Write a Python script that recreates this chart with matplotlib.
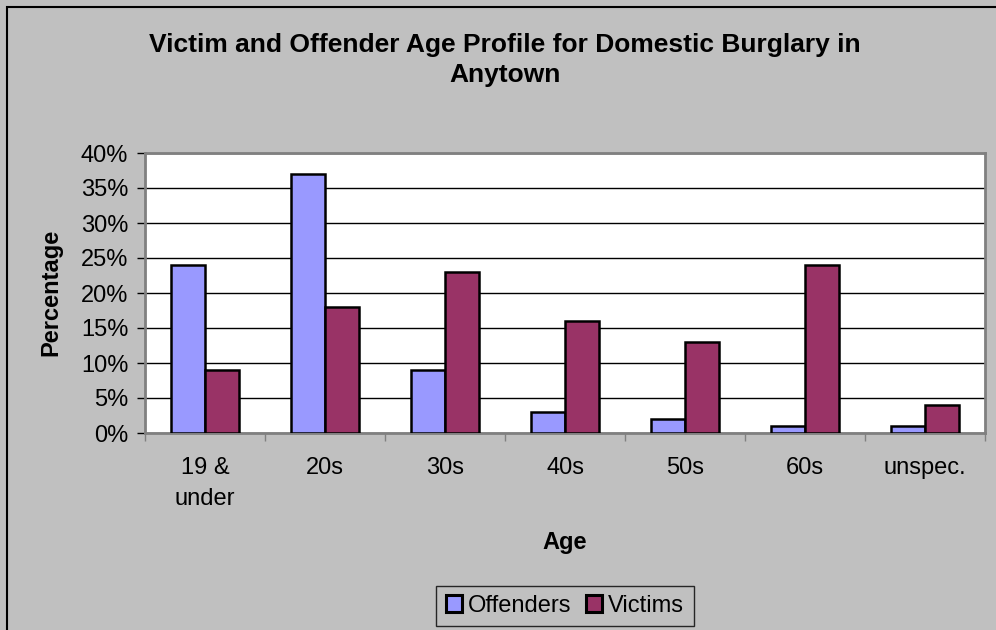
import numpy as np
import matplotlib.pyplot as plt
from matplotlib.patches import Rectangle

plt.rcParams['font.family'] = ['Liberation Sans', 'DejaVu Sans']

# Age groups and percentages
categories = ["19 &\nunder", "20s", "30s", "40s", "50s", "60s", "unspec."]
offenders = [24, 37, 9, 3, 2, 1, 1]
victims = [9, 18, 23, 16, 13, 24, 4]

W, H = 996, 630
fig = plt.figure(figsize=(W / 100, H / 100), dpi=100, facecolor="#c0c0c0")
ax = fig.add_axes([145 / W, 1 - 433 / H, 840 / W, 280 / H])
ax.set_facecolor("white")

# outer frame of the chart area
fig.patches.append(Rectangle((7 / W, -0.05), 1.1, 1 - 7 / H + 0.05,
                             transform=fig.transFigure, fill=False,
                             edgecolor="black", linewidth=1.5))

x = np.arange(len(categories))
w = 0.286
ax.bar(x - w / 2, offenders, w, color="#9999ff", edgecolor="black",
       linewidth=1.8, label="Offenders", zorder=3)
ax.bar(x + w / 2, victims, w, color="#993366", edgecolor="black",
       linewidth=1.8, label="Victims", zorder=3)

fs = 17
ax.set_xlim(-0.5, len(categories) - 0.5)
ax.set_ylim(0, 40)
ax.set_yticks(np.arange(0, 41, 5))
ax.set_yticklabels([f"{v}%" for v in range(0, 41, 5)], fontsize=fs)
ax.yaxis.grid(True, color="black", linewidth=1)
ax.set_axisbelow(True)

ax.set_xticks(x)
ax.set_xticklabels(categories, fontsize=fs, linespacing=1.55, va="top")
ax.set_xticks(np.arange(-0.5, len(categories), 1), minor=True)
ax.tick_params(axis="x", which="major", length=0, pad=17)
ax.tick_params(axis="x", which="minor", length=6, width=1, color="#808080")
ax.tick_params(axis="y", length=6, width=1, color="black", pad=6)

for s in ax.spines.values():
    s.set_color("#808080")
    s.set_linewidth(2)

ax.set_xlabel("Age", fontsize=fs, fontweight="bold")
ax.xaxis.set_label_coords(565 / W, 1 - 543 / H, transform=fig.transFigure)
ax.xaxis.label.set_va("center")
ax.set_ylabel("Percentage", fontsize=fs, fontweight="bold")
ax.yaxis.set_label_coords(51 / W, 1 - 292 / H, transform=fig.transFigure)
ax.yaxis.label.set_va("center")

fig.text(505 / W, 1 - 45 / H,
         "Victim and Offender Age Profile for Domestic Burglary in",
         ha="center", va="center", fontsize=19, fontweight="bold")
fig.text(505 / W, 1 - 75 / H, "Anytown",
         ha="center", va="center", fontsize=19, fontweight="bold")

leg = fig.legend(loc="center", bbox_to_anchor=(565 / W, 1 - 606 / H),
                 ncol=2, fontsize=fs, frameon=True, fancybox=False,
                 handlelength=0.7, handleheight=0.7, handletextpad=0.25,
                 columnspacing=0.6, borderpad=0.4, borderaxespad=0)
leg.get_frame().set_edgecolor("black")
leg.get_frame().set_facecolor("#c0c0c0")
leg.get_frame().set_linewidth(1)
for h in leg.legend_handles:
    h.set_linewidth(2.2)

fig.savefig("out.png", dpi=100, facecolor=fig.get_facecolor())
